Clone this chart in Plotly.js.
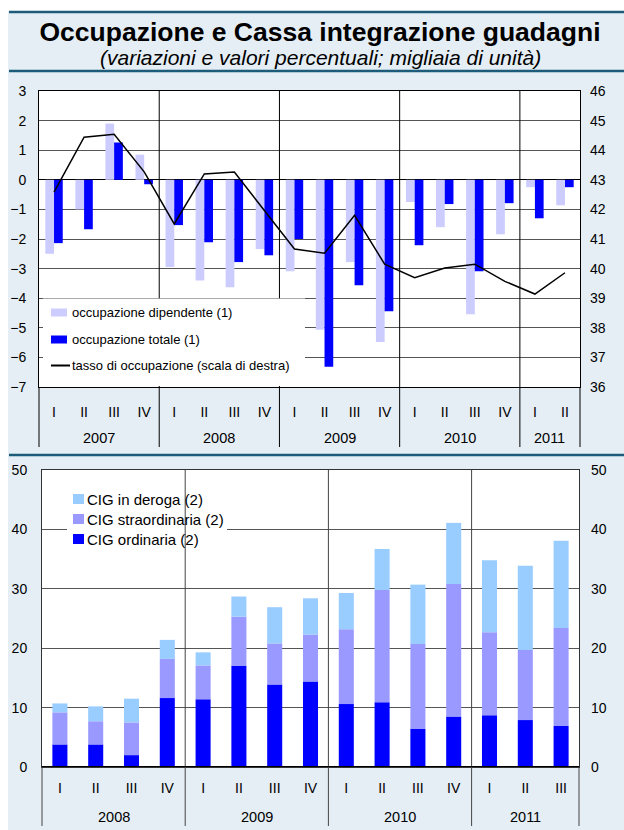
<!DOCTYPE html>
<html>
<head>
<meta charset="utf-8">
<script src="https://cdn.plot.ly/plotly-3.0.1.min.js"></script>
<style>html,body{margin:0;padding:0;background:#fff;}#chart{width:624px;height:830px;}</style>
</head>
<body>
<div id="chart"></div>
<script>
// ---------- data: top panel (quarterly, 2007 Q1 - 2011 Q2) ----------
const topYear = ['2007','2007','2007','2007','2008','2008','2008','2008','2009','2009','2009','2009','2010','2010','2010','2010','2011','2011'];
const topQuarter = ['I','II','III','IV','I','II','III','IV','I','II','III','IV','I','II','III','IV','I','II'];
const occDipendente = [-2.5,-1.0,1.9,0.85,-2.95,-3.4,-3.63,-2.34,-3.09,-5.07,-2.78,-5.48,-0.75,-1.6,-4.54,-1.84,-0.25,-0.86];
const occTotale = [-2.14,-1.67,1.26,-0.15,-1.53,-2.11,-2.78,-2.55,-2.0,-6.32,-3.56,-4.44,-2.21,-0.82,-3.09,-0.79,-1.3,-0.25];
const tassoOccupazione = [42.58,44.44,44.54,43.27,41.51,43.2,43.26,41.95,40.66,40.52,41.8,40.15,39.69,40.02,40.15,39.57,39.14,39.86];

// ---------- data: bottom panel (quarterly, 2008 Q1 - 2011 Q3) ----------
const botYear = ['2008','2008','2008','2008','2009','2009','2009','2009','2010','2010','2010','2010','2011','2011','2011'];
const botQuarter = ['I','II','III','IV','I','II','III','IV','I','II','III','IV','I','II','III'];
const cigOrdinaria = [3.8,3.8,2.0,11.6,11.4,17.0,13.9,14.4,10.6,10.9,6.4,8.5,8.7,7.9,6.9];
const cigStraordinaria = [5.4,3.9,5.5,6.6,5.7,8.3,6.9,7.9,12.6,18.9,14.3,22.3,14.0,11.8,16.5];
const cigDeroga = [1.5,2.5,4.0,3.2,2.2,3.4,6.1,6.1,6.1,6.9,10.0,10.3,12.1,14.2,14.7];

const titleText = 'Occupazione e Cassa integrazione guadagni';
const subtitleText = '(variazioni e valori percentuali; migliaia di unità)';
const topLegend = ['occupazione dipendente (1)','occupazione totale (1)','tasso di occupazione (scala di destra)'];
const botLegend = ['CIG in deroga (2)','CIG straordinaria (2)','CIG ordinaria (2)'];

// ---------- helpers ----------
const W = 624, H = 830;
const px = v => v / W;
const py = v => 1 - v / H;
const FONT = 'Liberation Sans, Arial, Helvetica, sans-serif';
const C_LIGHT = '#ccccff', C_DARK = '#0000ff', C_DEROGA = '#99ccff', C_STRA = '#9999ff';
const C_RULE = '#1d5b7b';

const topIdx = topQuarter.map((_, i) => i);
const botIdx = botQuarter.map((_, i) => i);
const baseStra = cigOrdinaria.slice();
const baseDeroga = cigOrdinaria.map((v, i) => v + cigStraordinaria[i]);

function groups(years) {
  const g = [];
  years.forEach((y, i) => {
    if (!g.length || g[g.length - 1].year !== y) g.push({year: y, start: i, end: i});
    else g[g.length - 1].end = i;
  });
  return g;
}
const topGroups = groups(topYear);
const botGroups = groups(botYear);

// panel geometry (pixels)
const TOP = {l: 39, r: 580, t: 91, b: 387, axb: 447};
const BOT = {l: 42, r: 579, t: 470, b: 767, axb: 826};

const traces = [
  {type: 'bar', name: topLegend[0], x: topIdx, y: occDipendente, width: 0.29, offset: -0.29,
   marker: {color: C_LIGHT}, xaxis: 'x', yaxis: 'y', hoverinfo: 'y'},
  {type: 'bar', name: topLegend[1], x: topIdx, y: occTotale, width: 0.29, offset: 0,
   marker: {color: C_DARK}, xaxis: 'x', yaxis: 'y', hoverinfo: 'y'},
  {type: 'scatter', mode: 'lines', name: topLegend[2], x: topIdx, y: tassoOccupazione,
   line: {color: '#000', width: 1.5}, xaxis: 'x', yaxis: 'y2', hoverinfo: 'y'},
  {type: 'bar', name: botLegend[2], x: botIdx, y: cigOrdinaria, base: 0, width: 0.42,
   marker: {color: C_DARK}, xaxis: 'x2', yaxis: 'y3', hoverinfo: 'y'},
  {type: 'bar', name: botLegend[1], x: botIdx, y: cigStraordinaria, base: baseStra, width: 0.42,
   marker: {color: C_STRA}, xaxis: 'x2', yaxis: 'y3', hoverinfo: 'y'},
  {type: 'bar', name: botLegend[0], x: botIdx, y: cigDeroga, base: baseDeroga, width: 0.42,
   marker: {color: C_DEROGA}, xaxis: 'x2', yaxis: 'y3', hoverinfo: 'y'},
  {type: 'scatter', mode: 'lines', x: [], y: [], xaxis: 'x2', yaxis: 'y4', showlegend: false, hoverinfo: 'skip'}
];

const shapes = [];
const annotations = [];

// white outer margins (left / top strip)
shapes.push({type: 'rect', xref: 'paper', yref: 'paper', x0: 0, x1: px(8), y0: 0, y1: 1, fillcolor: '#fff', line: {width: 0}, layer: 'above'});
shapes.push({type: 'rect', xref: 'paper', yref: 'paper', x0: 0, x1: 1, y0: py(11), y1: 1, fillcolor: '#fff', line: {width: 0}, layer: 'above'});
// dark horizontal rules
[12, 71, 455].forEach(y => shapes.push({type: 'line', xref: 'paper', yref: 'paper', x0: px(9), x1: 1, y0: py(y), y1: py(y), line: {color: C_RULE, width: 2.5}, layer: 'above'}));

// ---- top panel separators (year boundaries) ----
topGroups.slice(1).forEach(g => shapes.push({type: 'line', xref: 'x', yref: 'paper', x0: g.start - 0.5, x1: g.start - 0.5,
  y0: py(TOP.axb), y1: py(TOP.t), line: {color: '#000', width: 1}, layer: 'above'}));
[TOP.l, TOP.r].forEach(x => shapes.push({type: 'line', xref: 'paper', yref: 'paper', x0: px(x), x1: px(x), y0: py(TOP.axb), y1: py(TOP.b), line: {color: '#000', width: 1}, layer: 'above'}));
// top legend box
shapes.push({type: 'rect', xref: 'paper', yref: 'paper', x0: px(43), x1: px(305), y0: py(386), y1: py(298.5), fillcolor: '#fff', line: {width: 0}, layer: 'above'});
// top legend swatches
const topLegY = [312.5, 339.5, 365.5];
shapes.push({type: 'rect', xref: 'paper', yref: 'paper', x0: px(51), x1: px(67), y0: py(topLegY[0] + 4), y1: py(topLegY[0] - 4), fillcolor: C_LIGHT, line: {width: 0}, layer: 'above'});
shapes.push({type: 'rect', xref: 'paper', yref: 'paper', x0: px(51), x1: px(67), y0: py(topLegY[1] + 4), y1: py(topLegY[1] - 4), fillcolor: C_DARK, line: {width: 0}, layer: 'above'});
shapes.push({type: 'line', xref: 'paper', yref: 'paper', x0: px(51), x1: px(70), y0: py(topLegY[2]), y1: py(topLegY[2]), line: {color: '#000', width: 2}, layer: 'above'});
topLegend.forEach((t, i) => annotations.push({xref: 'paper', yref: 'paper', x: px(70), y: py(topLegY[i]), xanchor: 'left', yanchor: 'middle', text: t, showarrow: false, font: {size: 13, color: '#000'}}));
// top year labels
topGroups.forEach(g => annotations.push({xref: 'x', yref: 'paper', x: (g.start + g.end) / 2, y: py(438), xanchor: 'center', yanchor: 'middle', text: g.year, showarrow: false, font: {size: 14.5, color: '#000'}}));

// ---- bottom panel ----
// legend box (covers gridline, separators drawn over it)
shapes.push({type: 'rect', xref: 'paper', yref: 'paper', x0: px(67), x1: px(227), y0: py(550), y1: py(482), fillcolor: '#fff', line: {width: 0}, layer: 'above'});
botGroups.slice(1).forEach(g => shapes.push({type: 'line', xref: 'x2', yref: 'paper', x0: g.start - 0.5, x1: g.start - 0.5,
  y0: py(BOT.axb), y1: py(BOT.t), line: {color: '#444', width: 1}, layer: 'above'}));
[BOT.l, BOT.r].forEach(x => shapes.push({type: 'line', xref: 'paper', yref: 'paper', x0: px(x), x1: px(x), y0: py(BOT.axb), y1: py(BOT.b), line: {color: '#444', width: 1}, layer: 'above'}));
// zero baseline
shapes.push({type: 'line', xref: 'paper', yref: 'y3', x0: px(BOT.l), x1: px(BOT.r), y0: 0, y1: 0, line: {color: '#000', width: 2}, layer: 'above'});
const botLegY = [499, 519, 539];
const botLegC = [C_DEROGA, C_STRA, C_DARK];
botLegend.forEach((t, i) => {
  shapes.push({type: 'rect', xref: 'paper', yref: 'paper', x0: px(73), x1: px(84), y0: py(botLegY[i] + 5), y1: py(botLegY[i] - 5), fillcolor: botLegC[i], line: {width: 0}, layer: 'above'});
  annotations.push({xref: 'paper', yref: 'paper', x: px(84.5), y: py(botLegY[i]), xanchor: 'left', yanchor: 'middle', text: t, showarrow: false, font: {size: 15, color: '#000'}});
});
botGroups.forEach(g => annotations.push({xref: 'x2', yref: 'paper', x: (g.start + g.end) / 2, y: py(817), xanchor: 'center', yanchor: 'middle', text: g.year, showarrow: false, font: {size: 14.5, color: '#000'}}));

// subtitle
annotations.push({xref: 'paper', yref: 'paper', x: px(320), y: py(57), xanchor: 'center', yanchor: 'middle', text: '<i>' + subtitleText + '</i>', showarrow: false, font: {size: 21, color: '#000'}});

const catAxis = {ticks: '', showgrid: false, zeroline: false, showline: true, mirror: true, linewidth: 1, ticklabelstandoff: 12, tickfont: {size: 14, color: '#000'}, fixedrange: true};
const valAxis = {ticks: '', showline: true, mirror: true, linewidth: 1, ticklabelstandoff: 9, tickfont: {size: 14, color: '#000'}, fixedrange: true};

const layout = {
  width: W, height: H,
  margin: {l: 0, r: 0, t: 0, b: 0},
  paper_bgcolor: '#e5eef5', plot_bgcolor: '#ffffff',
  font: {family: FONT, size: 14, color: '#000'},
  showlegend: false,
  barmode: 'overlay',
  title: {text: '<b>' + titleText + '</b>', font: {size: 26.5, color: '#000', family: FONT},
          x: px(320), xanchor: 'center', xref: 'paper', y: py(32), yref: 'container', yanchor: 'middle'},
  xaxis: Object.assign({}, catAxis, {domain: [px(TOP.l), px(TOP.r)], anchor: 'y', range: [-0.5, topQuarter.length - 0.5],
          tickmode: 'array', tickvals: topIdx, ticktext: topQuarter, linecolor: '#000'}),
  yaxis: Object.assign({}, valAxis, {domain: [py(TOP.b), py(TOP.t)], anchor: 'x', range: [-7, 3], dtick: 1, tick0: 0,
          showgrid: true, gridcolor: '#555', gridwidth: 1, zeroline: true, zerolinecolor: '#000', zerolinewidth: 1, linecolor: '#000'}),
  yaxis2: {overlaying: 'y', anchor: 'x', side: 'right', range: [36, 46], dtick: 1, tick0: 36, showgrid: false, zeroline: false,
          ticks: '', showline: false, ticklabelstandoff: 9, tickfont: {size: 14, color: '#000'}, fixedrange: true},
  xaxis2: Object.assign({}, catAxis, {domain: [px(BOT.l), px(BOT.r)], anchor: 'y3', range: [-0.5, botQuarter.length - 0.5],
          tickmode: 'array', tickvals: botIdx, ticktext: botQuarter, linecolor: '#333', ticklabelstandoff: 8}),
  yaxis3: Object.assign({}, valAxis, {domain: [py(BOT.b), py(BOT.t)], anchor: 'x2', range: [0, 50], dtick: 10, tick0: 0,
          showgrid: true, gridcolor: '#555', gridwidth: 1, zeroline: false, linecolor: '#333', ticklabelstandoff: 11}),
  yaxis4: {overlaying: 'y3', anchor: 'x2', side: 'right', range: [0, 50], dtick: 10, tick0: 0, showgrid: false, zeroline: false,
          ticks: '', showline: false, ticklabelstandoff: 11, tickfont: {size: 14, color: '#000'}, fixedrange: true},
  shapes: shapes,
  annotations: annotations
};

Plotly.newPlot('chart', traces, layout, {displayModeBar: false, staticPlot: true});
</script>
</body>
</html>
